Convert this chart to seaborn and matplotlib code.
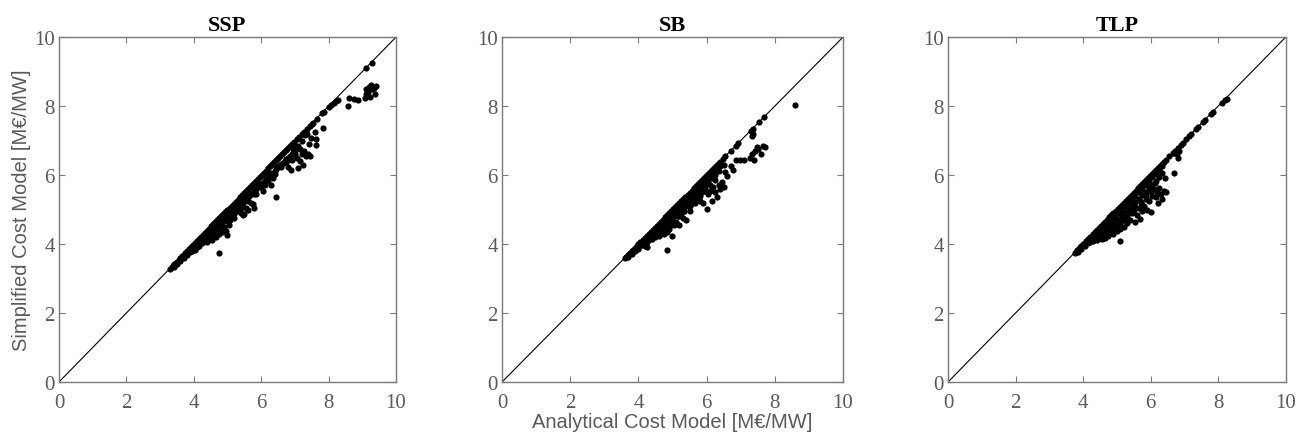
import matplotlib
matplotlib.use("Agg")
import matplotlib.pyplot as plt
import seaborn as sns
import pandas as pd

# ---------------- data ----------------
panel_titles = ["SSP", "SB", "TLP"]
tick_values = [0, 2, 4, 6, 8, 10]
diag = [0, 10]

ssp_x = [3.30, 3.34, 3.38, 3.42, 3.46, 3.50, 3.55, 3.60, 3.65, 3.70, 3.75, 3.80, 3.86, 3.92, 3.98,
         4.04, 4.10, 4.16, 4.22, 4.28, 4.34, 4.40, 4.46, 4.52, 4.58, 4.64, 4.70, 4.76, 4.82, 4.88,
         4.94, 5.00, 5.06, 5.12, 5.18, 5.24, 5.30, 5.36, 5.42, 5.48, 5.54, 5.60, 5.66, 5.72, 5.78,
         5.84, 5.90, 5.96, 6.02, 6.08, 6.14, 6.20, 6.26, 6.32, 6.38, 6.44, 6.50, 6.56, 6.62, 6.68,
         6.74, 6.80, 6.86, 6.92, 6.98, 7.05, 7.12, 7.20, 7.28, 7.36, 7.45, 7.55, 7.65, 7.80, 7.85,
         8.00, 8.08, 8.15, 8.22, 8.28,
         3.40, 3.50, 3.60, 3.70, 3.80, 3.90, 4.00, 4.10, 4.20, 4.30, 4.40, 4.50, 4.60, 4.70, 4.80,
         4.90, 5.00, 5.10, 5.20, 5.30, 5.40, 5.50, 5.60, 5.70, 5.80, 5.90, 6.00, 6.10, 6.20, 6.30,
         6.40, 6.50, 6.60, 6.70, 6.80, 6.90, 7.00, 7.10, 7.20, 7.30,
         3.95, 4.05, 4.00, 4.10, 4.20, 4.25, 4.40, 4.45, 4.50, 4.55, 4.60, 4.65, 4.74, 4.75, 4.80,
         4.85, 4.90, 4.95, 4.98, 5.05, 5.08, 5.15, 5.20, 5.25, 5.30, 5.35, 5.40, 5.45, 5.50, 5.55,
         5.58, 5.62, 5.70, 5.75, 5.80, 5.85, 5.90, 6.05, 6.10, 6.28, 6.35, 6.44, 6.25, 6.45, 6.55,
         6.65, 6.75, 6.80, 6.88, 6.92, 6.98, 7.05, 7.10, 7.15, 7.20, 7.25, 7.28, 7.32, 7.40, 7.45,
         7.42, 7.48, 7.62, 7.62, 7.60, 7.83, 7.00, 6.95, 7.35, 7.50, 8.58, 8.60, 8.75, 8.88, 9.08,
         9.12, 9.12, 9.17, 9.20, 9.25, 9.30, 9.38, 9.42, 9.22, 9.10, 9.30, 9.15, 9.35,
         4.05, 4.15, 4.25, 4.35, 4.45, 4.55, 4.65, 4.75, 4.85, 4.95, 5.05, 5.15, 5.25, 5.35, 5.45,
         5.55, 5.65, 5.75, 5.85, 5.95, 6.05, 6.15, 6.25, 6.35, 6.45, 6.55, 6.65, 6.75, 6.85, 6.95,
         5.00, 5.20, 5.40, 5.60, 5.80, 6.00, 6.20, 6.40, 6.60, 6.80, 7.00, 7.15]
ssp_y = [3.29, 3.33, 3.37, 3.41, 3.45, 3.49, 3.54, 3.59, 3.64, 3.69, 3.74, 3.79, 3.85, 3.91, 3.97,
         4.03, 4.09, 4.15, 4.21, 4.27, 4.33, 4.39, 4.45, 4.51, 4.57, 4.63, 4.69, 4.75, 4.81, 4.87,
         4.93, 4.99, 5.05, 5.11, 5.17, 5.23, 5.29, 5.35, 5.41, 5.47, 5.53, 5.59, 5.65, 5.71, 5.77,
         5.83, 5.89, 5.95, 6.01, 6.07, 6.13, 6.19, 6.25, 6.31, 6.37, 6.43, 6.49, 6.55, 6.61, 6.67,
         6.73, 6.79, 6.85, 6.91, 6.97, 7.04, 7.11, 7.19, 7.26, 7.34, 7.43, 7.52, 7.62, 7.79, 7.83,
         7.96, 8.02, 8.08, 8.14, 8.18,
         3.33, 3.42, 3.51, 3.60, 3.69, 3.78, 3.88, 3.97, 4.06, 4.16, 4.25, 4.34, 4.44, 4.53, 4.62,
         4.72, 4.81, 4.90, 5.00, 5.09, 5.18, 5.28, 5.37, 5.46, 5.56, 5.65, 5.75, 5.84, 5.93, 6.03,
         6.12, 6.22, 6.31, 6.40, 6.50, 6.60, 6.70, 6.85, 7.00, 7.15,
         3.80, 3.85, 3.95, 3.90, 4.10, 4.05, 4.05, 4.15, 4.20, 4.12, 4.30, 4.20, 3.74, 4.28, 4.45,
         4.35, 4.50, 4.38, 4.25, 4.55, 4.70, 4.85, 4.75, 4.95, 5.05, 4.95, 4.90, 4.85, 4.88, 5.05,
         5.40, 4.98, 5.20, 5.15, 5.05, 5.45, 5.70, 5.55, 5.70, 5.70, 5.90, 5.35, 6.05, 6.25, 6.28,
         6.35, 6.38, 6.22, 6.15, 6.45, 6.60, 6.50, 6.20, 6.40, 6.60, 6.30, 6.70, 6.55, 6.62, 6.55,
         6.90, 7.08, 7.05, 6.88, 7.25, 7.35, 6.85, 6.75, 7.20, 7.48, 8.00, 8.22, 8.20, 8.17, 8.22,
         8.35, 8.50, 8.42, 8.55, 8.62, 8.48, 8.35, 8.58, 8.25, 9.09, 9.26, 8.30, 8.52,
         3.83, 3.93, 4.03, 4.13, 4.23, 4.33, 4.43, 4.52, 4.62, 4.72, 4.81, 4.91, 5.01, 5.10, 5.20,
         5.30, 5.39, 5.49, 5.59, 5.68, 5.78, 5.88, 5.97, 6.07, 6.17, 6.26, 6.36, 6.46, 6.55, 6.65,
         4.66, 4.86, 5.05, 5.24, 5.44, 5.64, 5.84, 6.03, 6.23, 6.45, 6.62, 6.75]

sb_x = [3.60, 3.64, 3.68, 3.72, 3.76, 3.80, 3.85, 3.90, 3.95, 4.00, 4.06, 4.12, 4.18, 4.24, 4.30,
        4.36, 4.42, 4.48, 4.54, 4.60, 4.66, 4.72, 4.78, 4.84, 4.90, 4.96, 5.02, 5.08, 5.14, 5.20,
        5.26, 5.32, 5.38, 5.44, 5.50, 5.56, 5.62, 5.68, 5.74, 5.80, 5.86, 5.92, 5.98, 6.04, 6.10,
        6.16, 6.22, 6.28, 6.34, 6.40, 6.48, 6.55, 6.70, 6.85, 6.93, 7.30, 7.35, 7.55, 7.68,
        3.70, 3.80, 3.90, 4.00, 4.10, 4.20, 4.30, 4.40, 4.50, 4.60, 4.70, 4.80, 4.90, 5.00, 5.10,
        5.20, 5.30, 5.40, 5.50, 5.60, 5.70, 5.80, 5.90, 6.00, 6.10, 6.20, 6.30, 6.40,
        4.00, 4.20, 4.25, 4.40, 4.50, 4.55, 4.60, 4.70, 4.75, 4.80, 4.83, 4.85, 4.90, 4.95, 4.98,
        5.05, 5.10, 5.15, 5.20, 5.25, 5.30, 5.35, 5.40, 5.45, 5.50, 5.55, 5.60, 5.65, 5.70, 5.75,
        5.80, 5.85, 5.90, 5.95, 6.00, 6.05, 6.10, 6.15, 6.20, 6.25, 6.30, 6.35, 6.40, 6.45, 6.50,
        6.55, 6.60, 6.52, 6.70, 6.78, 6.85, 6.98, 7.10, 7.28, 7.32, 7.38, 7.42, 7.48, 7.52, 7.58,
        7.65, 7.70, 7.35, 7.32, 8.60,
        4.15, 4.25, 4.35, 4.45, 4.55, 4.65, 4.75, 4.85, 4.95, 5.05, 5.15, 5.25, 5.35, 5.45, 5.55,
        5.65, 5.75, 5.85, 5.95, 6.05, 6.15, 6.25, 6.35,
        4.60, 4.75, 4.90, 5.05, 5.20, 5.35, 5.50, 5.65, 5.80, 5.95, 6.10, 6.25]
sb_y = [3.59, 3.63, 3.67, 3.71, 3.75, 3.79, 3.84, 3.89, 3.94, 3.99, 4.05, 4.11, 4.17, 4.23, 4.29,
        4.35, 4.41, 4.47, 4.53, 4.59, 4.65, 4.71, 4.77, 4.83, 4.89, 4.95, 5.01, 5.07, 5.13, 5.19,
        5.25, 5.31, 5.37, 5.43, 5.49, 5.55, 5.61, 5.67, 5.73, 5.79, 5.85, 5.91, 5.97, 6.03, 6.09,
        6.15, 6.21, 6.27, 6.33, 6.39, 6.47, 6.54, 6.70, 6.84, 6.92, 7.29, 7.34, 7.53, 7.67,
        3.62, 3.71, 3.80, 3.89, 3.98, 4.07, 4.16, 4.26, 4.35, 4.44, 4.53, 4.63, 4.72, 4.82, 4.92,
        5.02, 5.12, 5.22, 5.32, 5.42, 5.51, 5.61, 5.71, 5.82, 5.93, 6.03, 6.14, 6.26,
        3.85, 3.95, 3.92, 4.15, 4.20, 4.30, 4.25, 4.40, 4.30, 4.50, 3.84, 4.35, 4.45, 4.60, 4.24,
        4.55, 4.65, 4.80, 4.55, 4.90, 4.75, 4.95, 4.70, 5.10, 4.95, 5.15, 5.30, 5.20, 5.40, 5.35,
        5.25, 5.50, 5.20, 5.60, 5.01, 5.45, 5.55, 5.25, 5.65, 5.50, 5.35, 5.70, 5.60, 5.80, 5.65,
        6.10, 5.98, 6.30, 6.25, 6.15, 6.45, 6.45, 6.43, 6.50, 6.60, 6.45, 6.70, 6.80, 6.75, 6.62,
        6.85, 6.80, 7.20, 7.12, 8.02,
        3.96, 4.05, 4.14, 4.24, 4.33, 4.42, 4.52, 4.62, 4.72, 4.81, 4.91, 5.01, 5.11, 5.20, 5.30,
        5.40, 5.50, 5.60, 5.70, 5.80, 5.90, 6.00, 6.12,
        4.22, 4.36, 4.50, 4.65, 4.80, 4.95, 5.10, 5.25, 5.40, 5.55, 5.70, 5.85]

tlp_x = [3.75, 3.79, 3.83, 3.87, 3.91, 3.95, 4.00, 4.05, 4.10, 4.15, 4.20, 4.25, 4.30, 4.36, 4.42,
         4.48, 4.54, 4.60, 4.66, 4.72, 4.78, 4.84, 4.90, 4.96, 5.02, 5.08, 5.14, 5.20, 5.26, 5.32,
         5.38, 5.44, 5.50, 5.56, 5.62, 5.68, 5.74, 5.80, 5.86, 5.92, 5.98, 6.04, 6.10, 6.16, 6.22,
         6.28, 6.34, 6.40, 6.46, 6.55, 6.65, 6.72, 6.80, 6.90, 6.95, 7.05, 7.15, 7.20, 7.35, 7.40,
         7.55, 7.60, 7.80, 7.85, 8.12, 8.20, 8.25,
         3.85, 3.95, 4.05, 4.15, 4.25, 4.35, 4.45, 4.55, 4.65, 4.75, 4.85, 4.95, 5.05, 5.15, 5.25,
         5.35, 5.45, 5.55, 5.65, 5.75, 5.85, 5.95, 6.05, 6.15, 6.25, 6.35,
         4.20, 4.30, 4.40, 4.50, 4.60, 4.70, 4.80, 4.90, 5.00, 5.10, 5.20, 4.55, 4.65, 4.75, 4.90,
         5.00, 5.10, 5.20, 5.30,
         5.08, 5.30, 5.40, 5.45, 5.50, 5.55, 5.60, 5.65, 5.68, 5.70, 5.75, 5.80, 5.85, 5.90, 5.95,
         6.00, 6.00, 6.05, 6.10, 6.12, 6.15, 6.20, 6.22, 6.25, 6.30, 6.35, 6.40, 6.42, 6.45, 6.68,
         6.80, 6.70, 6.78, 6.85,
         4.35, 4.45, 4.55, 4.65, 4.75, 4.85, 4.95, 5.05, 5.15, 5.25, 5.35, 5.45, 5.55, 5.65, 5.75,
         5.85, 5.95, 6.05, 6.15, 6.25, 6.35,
         4.95, 5.10, 5.25, 5.40, 5.55, 5.70, 5.85, 6.00]
tlp_y = [3.74, 3.78, 3.82, 3.86, 3.90, 3.94, 3.99, 4.04, 4.09, 4.14, 4.19, 4.24, 4.29, 4.35, 4.41,
         4.47, 4.53, 4.59, 4.65, 4.71, 4.77, 4.83, 4.89, 4.95, 5.01, 5.07, 5.13, 5.19, 5.25, 5.31,
         5.37, 5.43, 5.49, 5.55, 5.61, 5.67, 5.73, 5.79, 5.85, 5.91, 5.97, 6.03, 6.09, 6.15, 6.21,
         6.27, 6.33, 6.39, 6.45, 6.54, 6.64, 6.71, 6.79, 6.88, 6.93, 7.04, 7.14, 7.19, 7.34, 7.38,
         7.54, 7.59, 7.78, 7.84, 8.10, 8.17, 8.21,
         3.78, 3.86, 3.95, 4.04, 4.13, 4.22, 4.32, 4.41, 4.50, 4.60, 4.69, 4.79, 4.89, 4.99, 5.09,
         5.19, 5.29, 5.40, 5.50, 5.60, 5.71, 5.82, 5.93, 6.04, 6.14, 6.25,
         4.05, 4.10, 4.12, 4.18, 4.25, 4.30, 4.40, 4.45, 4.55, 4.62, 4.70, 4.15, 4.18, 4.22, 4.30,
         4.38, 4.45, 4.50, 4.60,
         4.10, 4.80, 4.70, 4.90, 5.00, 4.65, 4.85, 5.05, 4.72, 5.20, 4.95, 5.10, 5.30, 5.00, 5.25,
         4.94, 5.55, 5.40, 5.60, 5.77, 5.35, 5.50, 5.20, 5.62, 5.45, 5.30, 5.55, 5.90, 5.50, 6.07,
         6.50, 6.65, 6.60, 6.70,
         4.17, 4.24, 4.32, 4.40, 4.48, 4.56, 4.65, 4.74, 4.83, 4.92, 5.02, 5.11, 5.21, 5.31, 5.41,
         5.51, 5.62, 5.72, 5.83, 5.94, 6.05,
         4.50, 4.60, 4.75, 4.92, 5.08, 5.22, 5.38, 5.52]

series_x = [ssp_x, sb_x, tlp_x]
series_y = [ssp_y, sb_y, tlp_y]

# ---------------- style ----------------
sns.set_style("white")
plt.rcParams['font.family'] = ['Liberation Serif', 'DejaVu Serif']
gray = "#5a5a5a"
axis_gray = "#7a7a7a"

fig = plt.figure(figsize=(13.04, 4.35), dpi=100)
lefts = [0.0452, 0.385, 0.727]
widths = [0.2585, 0.2615, 0.259]
bottom, height = 0.1195, 0.793

for i, title in enumerate(panel_titles):
    ax = fig.add_axes([lefts[i], bottom, widths[i], height])
    df = pd.DataFrame({"analytical": series_x[i], "simplified": series_y[i]})
    ax.plot(diag, diag, color="black", lw=0.8, zorder=1)
    sns.scatterplot(data=df, x="analytical", y="simplified", ax=ax, color="black",
                    s=20, linewidth=0, zorder=2)
    ax.set_xlim(0, 10)
    ax.set_ylim(0, 10)
    ax.set_xticks(tick_values)
    ax.set_yticks(tick_values)
    ax.set_xticklabels([str(t) for t in tick_values])
    ax.set_yticklabels([str(t) for t in tick_values])
    ax.tick_params(direction="in", length=4, width=0.8, colors=axis_gray,
                   labelcolor=gray, labelsize=15, bottom=True, left=True,
                   top=True, right=True)
    ax.tick_params(axis="x", pad=8)
    ax.tick_params(axis="y", pad=3)
    for sp in ax.spines.values():
        sp.set_color(axis_gray)
        sp.set_linewidth(1.0)
    ax.set_title(title, fontsize=16, fontweight="bold", color="black", pad=5)
    ax.set_xlabel("")
    ax.set_ylabel("")
    if i == 0:
        ax.set_ylabel("Simplified Cost Model [M€/MW]", fontsize=14.5, color=gray,
                      family=["Liberation Sans", "DejaVu Sans"], labelpad=2)
    if i == 1:
        ax.set_xlabel("Analytical Cost Model [M€/MW]", fontsize=14.5, color=gray,
                      family=["Liberation Sans", "DejaVu Sans"], labelpad=0)

fig.savefig("out.png", dpi=100)
